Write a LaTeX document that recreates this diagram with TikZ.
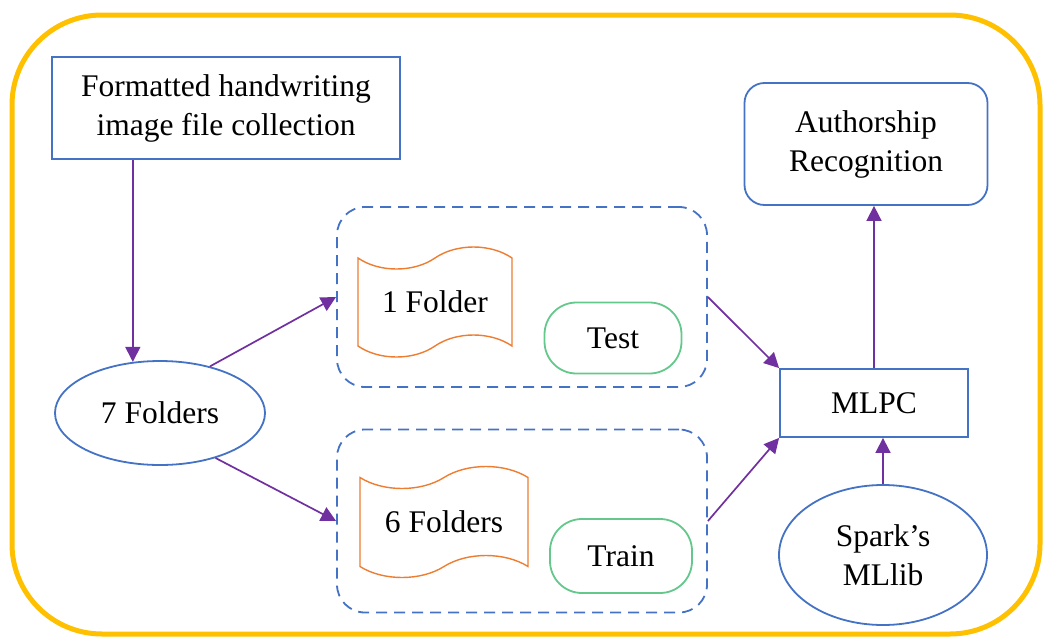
\documentclass[tikz,border=0pt]{standalone}
\usepackage{fontspec}
\setmainfont{Liberation Serif}
\usetikzlibrary{arrows.meta,shapes.geometric,shapes.symbols}
\definecolor{frameyellow}{RGB}{255,192,0}
\definecolor{boxblue}{RGB}{68,114,196}
\definecolor{tapeorange}{RGB}{237,125,49}
\definecolor{pillgreen}{RGB}{100,200,140}
\definecolor{flowpurple}{RGB}{112,48,160}

\begin{document}
\begin{tikzpicture}[x=1pt,y=-1pt,
  every node/.style={inner sep=0pt,align=center,font=\rmfamily\fontsize{31.5}{39}\selectfont},
  blockbox/.style={draw=boxblue,line width=1.8pt,rectangle},
  oval/.style={draw=boxblue,line width=1.8pt,ellipse},
  groupbox/.style={draw=boxblue,line width=1.8pt,dash pattern=on 11pt off 7pt,rounded corners=28pt},
  folderset/.style={draw=tapeorange,line width=1.4pt,tape,tape bend height=22pt},
  pill/.style={draw=pillgreen,line width=1.8pt,rounded corners=32pt},
  flow/.style={draw=flowpurple,line width=1.7pt,-{Triangle[length=15pt,width=15pt]}}]
\useasboundingbox (0,0) rectangle (1043,637);
\draw [frameyellow,line width=5pt,rounded corners=90pt] (12,15) rectangle (1040,634);
\node [blockbox,minimum width=348pt,minimum height=102pt] (collection) at (226,108) {Formatted handwriting\\image file collection};
\node [oval,minimum width=210pt,minimum height=104pt] (seven) at (160,413) {7 Folders};
\node [groupbox,minimum width=370pt,minimum height=180pt] (testgrp) at (522,297) {};
\node [folderset,minimum width=154pt,minimum height=110pt] (onefold) at (435,302) {1 Folder};
\node [pill,minimum width=137pt,minimum height=71pt] (test) at (613,338) {Test};
\node [groupbox,minimum width=370pt,minimum height=183pt] (traingrp) at (522,521) {};
\node [folderset,minimum width=168pt,minimum height=111pt] (sixfold) at (444,522) {6 Folders};
\node [pill,minimum width=142pt,minimum height=74pt] (train) at (621,556) {Train};
\node [blockbox,minimum width=188pt,minimum height=68pt] (mlpc) at (874,403) {MLPC};
\node [oval,minimum width=208pt,minimum height=140pt] (spark) at (883,555) {Spark’s\\MLlib};
\node [blockbox,rounded corners=20pt,minimum width=243pt,minimum height=122pt] (author) at (866,144) {Authorship\\Recognition};
\draw [flow] (collection.south -| seven.118) -- (seven.118);
\draw [flow] (seven.43) -- (testgrp.west);
\draw [flow] (seven.-39) -- (traingrp.west);
\draw [flow] (testgrp.east) -- (mlpc.north west);
\draw [flow] (traingrp.east) -- (mlpc.south west);
\draw [flow] (spark.north) -- (spark.north |- mlpc.south);
\draw [flow] (mlpc.north) -- (mlpc.north |- author.south);
\end{tikzpicture}
\end{document}
